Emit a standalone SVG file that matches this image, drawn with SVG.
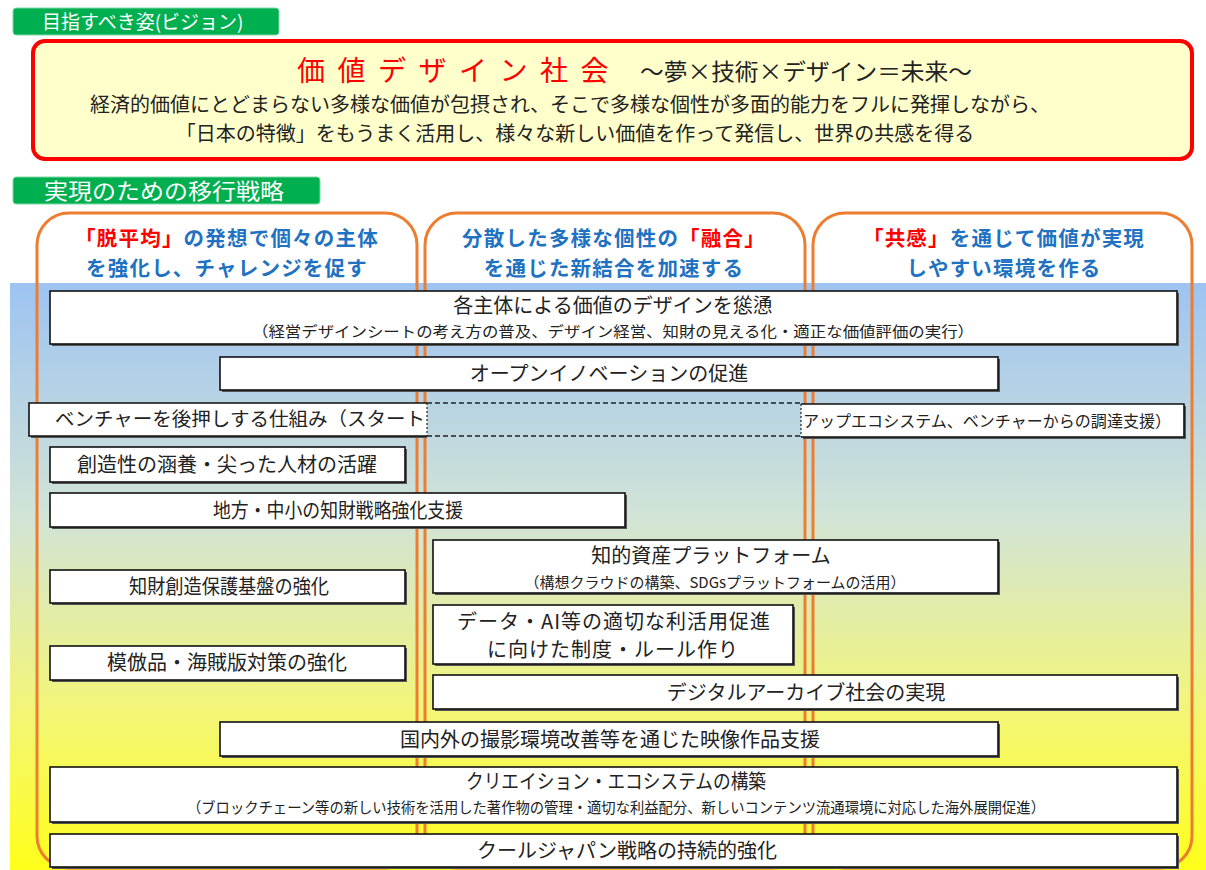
<svg xmlns="http://www.w3.org/2000/svg" width="1206" height="870" viewBox="0 0 1206 870">
<defs>
<linearGradient id="bg" x1="0" y1="0" x2="0" y2="1">
<stop offset="0" stop-color="#9DC3F2"/>
<stop offset="0.4" stop-color="#D2E4D6"/>
<stop offset="0.72" stop-color="#F2F57A"/>
<stop offset="1" stop-color="#FFFF1A"/>
</linearGradient>
<style>
text{font-family:"Noto Sans CJK JP","Noto Sans",sans-serif;}
.lbl{fill:#00AF50;stroke:#7fd8a6;stroke-width:1}
.lt{fill:#fff}
.col{fill:none;stroke:#ED7D31;stroke-width:3}
.hd{fill:#1F72C2;font-size:20.5px;font-weight:bold;letter-spacing:1.2px;text-anchor:middle}
.rd{fill:#FF0000}
.box{fill:#fff;stroke:#111;stroke-width:1.6}
.sh{fill:#555}
.t{fill:#222;font-size:20px;text-anchor:middle}
.s{fill:#222;font-size:15px;text-anchor:middle}
.dash{fill:none;stroke:#222;stroke-width:1.6;stroke-dasharray:5 3}
</style>
</defs>
<rect width="1206" height="870" fill="#fff"/>

<g id="label-vision">
<rect class="lbl" x="13" y="8" width="266" height="27" rx="3"/>
<text class="lt" x="42" y="29" font-size="19">目指すべき姿(ビジョン)</text>
</g>

<g id="vision">
<rect x="33" y="41" width="1159" height="118" rx="12" fill="#FFFFCC" stroke="#FF0000" stroke-width="4"/>
<text x="297" y="81" font-size="28" fill="#FF0000" letter-spacing="12.5">価値デザイン社会</text>
<text x="640" y="80" font-size="23" fill="#222" textLength="332" lengthAdjust="spacingAndGlyphs">～夢×技術×デザイン＝未来～</text>
<text font-size="20" fill="#222" text-anchor="middle"><tspan x="570" y="112">経済的価値にとどまらない多様な価値が包摂され、そこで多様な個性が多面的能力をフルに発揮しながら、</tspan><tspan x="575" y="141">「日本の特徴」をもうまく活用し、様々な新しい価値を作って発信し、世界の共感を得る</tspan></text>
</g>

<g id="label-strategy">
<rect class="lbl" x="13" y="177" width="307" height="27" rx="3"/>
<text class="lt" x="44" y="199" font-size="22" textLength="240" lengthAdjust="spacingAndGlyphs">実現のための移行戦略</text>
</g>

<rect id="background" x="10" y="283" width="1196" height="587" fill="url(#bg)"/>

<g id="column-1">
<rect class="col" x="37" y="213" width="380" height="655" rx="32"/>
<text class="hd"><tspan x="227" y="246"><tspan class="rd">「脱平均」</tspan>の発想で個々の主体</tspan><tspan x="227" y="276">を強化し、チャレンジを促す</tspan></text>
</g>
<g id="column-2">
<rect class="col" x="425" y="213" width="380" height="655" rx="32"/>
<text class="hd"><tspan x="614" y="246">分散した多様な個性の<tspan class="rd">「融合」</tspan></tspan><tspan x="614" y="276">を通じた新結合を加速する</tspan></text>
</g>
<g id="column-3">
<rect class="col" x="813" y="213" width="379" height="655" rx="32"/>
<text class="hd"><tspan x="1004" y="246"><tspan class="rd">「共感」</tspan>を通じて価値が実現</tspan><tspan x="1004" y="276">しやすい環境を作る</tspan></text>
</g>

<g id="connectors"/>

<g id="b-design">
<rect class="sh" x="52" y="293" width="1127" height="53"/>
<rect class="box" x="50" y="291" width="1127" height="53"/>
<text class="t" x="613" y="313">各主体による価値のデザインを慫慂</text>
<text class="s" x="613" y="337" textLength="722" lengthAdjust="spacingAndGlyphs">（経営デザインシートの考え方の普及、デザイン経営、知財の見える化・適正な価値評価の実行）</text>
</g>

<g id="b-open">
<rect class="sh" x="222" y="359" width="778" height="33"/>
<rect class="box" x="220" y="357" width="778" height="33"/>
<text class="t" x="609" y="381" font-size="19">オープンイノベーションの促進</text>
</g>

<g id="b-venture">
<rect class="sh" x="31" y="405" width="396" height="33"/>
<rect x="29" y="403" width="398" height="33" fill="#fff"/>
<path d="M427 403 H29 V436 H427" fill="none" stroke="#111" stroke-width="1.6"/>
<rect class="sh" x="803" y="406" width="383" height="33"/>
<rect x="801" y="404" width="383" height="33" fill="#fff"/>
<path d="M801 404 H1184 V437 H801" fill="none" stroke="#111" stroke-width="1.6"/>
<path class="dash" d="M427 403 H801 M427 436 H801"/>
<path d="M427 403 V436 M801 404 V437" fill="none" stroke="#222" stroke-width="1.2" stroke-dasharray="2 2"/>
<text x="55" y="426" font-size="19" fill="#222" textLength="370" lengthAdjust="spacingAndGlyphs">ベンチャーを後押しする仕組み（スタート</text>
<text x="803" y="427" font-size="16" fill="#222" textLength="368" lengthAdjust="spacingAndGlyphs">アップエコシステム、ベンチャーからの調達支援）</text>
</g>

<g id="b-creativity">
<rect class="sh" x="52" y="449" width="355" height="35"/>
<rect class="box" x="50" y="447" width="355" height="35"/>
<text class="t" x="227" y="472">創造性の涵養・尖った人材の活躍</text>
</g>

<g id="b-regional">
<rect class="sh" x="52" y="495" width="575" height="34"/>
<rect class="box" x="50" y="493" width="575" height="34"/>
<text class="t" x="338" y="518" textLength="250" lengthAdjust="spacingAndGlyphs">地方・中小の知財戦略強化支援</text>
</g>

<g id="b-platform">
<rect class="sh" x="435" y="542" width="565" height="53"/>
<rect class="box" x="433" y="540" width="565" height="53"/>
<text class="t" x="711" y="563">知的資産プラットフォーム</text>
<text class="s" x="715" y="588" font-size="16">（構想クラウドの構築、SDGsプラットフォームの活用）</text>
</g>

<g id="b-protection">
<rect class="sh" x="52" y="572" width="355" height="33"/>
<rect class="box" x="50" y="570" width="355" height="33"/>
<text class="t" x="229" y="594" textLength="200" lengthAdjust="spacingAndGlyphs">知財創造保護基盤の強化</text>
</g>

<g id="b-data">
<rect class="sh" x="435" y="607" width="360" height="59"/>
<rect class="box" x="433" y="605" width="360" height="59"/>
<text class="t" font-size="19.3" letter-spacing="1"><tspan x="614" y="629">データ・AI等の適切な利活用促進</tspan><tspan x="613" y="657">に向けた制度・ルール作り</tspan></text>
</g>

<g id="b-counterfeit">
<rect class="sh" x="52" y="648" width="355" height="34"/>
<rect class="box" x="50" y="646" width="355" height="34"/>
<text class="t" x="227" y="670">模倣品・海賊版対策の強化</text>
</g>

<g id="b-archive">
<rect class="sh" x="435" y="677" width="744" height="34"/>
<rect class="box" x="433" y="675" width="744" height="34"/>
<text class="t" x="806" y="700">デジタルアーカイブ社会の実現</text>
</g>

<g id="b-film">
<rect class="sh" x="222" y="724" width="778" height="34"/>
<rect class="box" x="220" y="722" width="778" height="34"/>
<text class="t" x="610" y="747">国内外の撮影環境改善等を通じた映像作品支援</text>
</g>

<g id="b-creation">
<rect class="sh" x="52" y="769" width="1127" height="55"/>
<rect class="box" x="50" y="767" width="1127" height="55"/>
<text class="t" x="616" y="789" textLength="300" lengthAdjust="spacingAndGlyphs">クリエイション・エコシステムの構築</text>
<text class="s" x="616" y="813" textLength="858" lengthAdjust="spacingAndGlyphs">（ブロックチェーン等の新しい技術を活用した著作物の管理・適切な利益配分、新しいコンテンツ流通環境に対応した海外展開促進）</text>
</g>

<g id="b-cooljapan">
<rect class="sh" x="52" y="836" width="1127" height="33"/>
<rect class="box" x="50" y="834" width="1127" height="33"/>
<text class="t" x="627" y="858">クールジャパン戦略の持続的強化</text>
</g>
</svg>
